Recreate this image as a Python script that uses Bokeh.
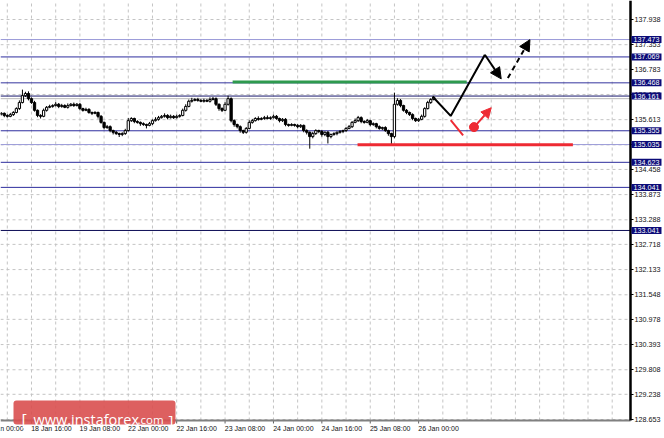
from bokeh.plotting import figure
from bokeh.models import Range1d, FixedTicker, Label, BoxAnnotation, Arrow, NormalHead
from bokeh.embed import file_html
from bokeh.resources import INLINE

# ---------------- data (H1 candles, bar index 0..143) ----------------
first_open = 135.74
closes = [
    135.76, 135.71, 135.69, 135.73, 135.78, 135.87, 136.01, 136.17, 136.22, 136.10,
    136.01, 135.83, 135.71, 135.69, 135.83, 135.90, 135.92, 135.94, 135.97, 135.92,
    135.94, 135.90, 135.94, 135.97, 135.94, 135.97, 135.87, 135.83, 135.85, 135.78,
    135.76, 135.78, 135.69, 135.55, 135.43, 135.45, 135.36, 135.32, 135.29, 135.27,
    135.29, 135.36, 135.59, 135.64, 135.57, 135.55, 135.52, 135.50, 135.48, 135.52,
    135.59, 135.62, 135.66, 135.69, 135.71, 135.66, 135.69, 135.66, 135.69, 135.71,
    135.83, 135.92, 136.04, 136.06, 136.08, 136.06, 136.04, 136.06, 136.04, 136.08,
    136.10, 135.97, 135.87, 135.83, 135.97, 136.10, 135.59, 135.50, 135.45, 135.36,
    135.32, 135.41, 135.55, 135.59, 135.64, 135.62, 135.64, 135.66, 135.64, 135.66,
    135.69, 135.64, 135.59, 135.62, 135.50, 135.48, 135.50, 135.48, 135.45, 135.48,
    135.36, 135.32, 135.22, 135.29, 135.36, 135.34, 135.27, 135.32, 135.22, 135.27,
    135.29, 135.32, 135.34, 135.36, 135.41, 135.45, 135.55, 135.59, 135.66, 135.57,
    135.55, 135.59, 135.50, 135.52, 135.45, 135.41, 135.43, 135.36, 135.29, 135.22,
    135.97, 136.06, 135.94, 135.83, 135.78, 135.73, 135.64, 135.59, 135.62, 135.69,
    135.87, 136.01, 136.08, 136.13,
]
upper_wicks = [
    0.03, 0.02, 0.03, 0.04, 0.03, 0.03, 0.05, 0.14, 0.04, 0.05,
    0.03, 0.04, 0.02, 0.03, 0.04, 0.03, 0.04, 0.03, 0.05, 0.03,
    0.04, 0.03, 0.05, 0.03, 0.04, 0.03, 0.03, 0.02, 0.04, 0.03,
    0.02, 0.03, 0.02, 0.03, 0.02, 0.04, 0.03, 0.02, 0.03, 0.02,
    0.03, 0.04, 0.06, 0.03, 0.02, 0.03, 0.02, 0.03, 0.02, 0.04,
    0.03, 0.05, 0.04, 0.03, 0.05, 0.03, 0.04, 0.03, 0.04, 0.03,
    0.04, 0.05, 0.04, 0.06, 0.03, 0.04, 0.03, 0.04, 0.03, 0.05,
    0.04, 0.03, 0.02, 0.03, 0.05, 0.07, 0.03, 0.03, 0.02, 0.03,
    0.02, 0.03, 0.05, 0.04, 0.03, 0.05, 0.03, 0.04, 0.05, 0.03,
    0.04, 0.03, 0.02, 0.03, 0.03, 0.02, 0.03, 0.02, 0.03, 0.03,
    0.02, 0.03, 0.02, 0.04, 0.03, 0.02, 0.03, 0.02, 0.03, 0.02,
    0.03, 0.02, 0.03, 0.02, 0.03, 0.04, 0.03, 0.05, 0.04, 0.03,
    0.03, 0.04, 0.02, 0.03, 0.02, 0.03, 0.02, 0.03, 0.02, 0.02,
    0.27, 0.05, 0.03, 0.02, 0.03, 0.02, 0.03, 0.02, 0.03, 0.04,
    0.03, 0.04, 0.03, 0.02,
]
lower_wicks = [
    0.03, 0.04, 0.03, 0.02, 0.03, 0.02, 0.03, 0.02, 0.03, 0.04,
    0.03, 0.03, 0.04, 0.05, 0.02, 0.03, 0.02, 0.03, 0.02, 0.04,
    0.03, 0.02, 0.03, 0.02, 0.03, 0.02, 0.04, 0.03, 0.02, 0.03,
    0.04, 0.02, 0.05, 0.03, 0.04, 0.03, 0.04, 0.05, 0.03, 0.06,
    0.04, 0.03, 0.02, 0.03, 0.04, 0.03, 0.05, 0.03, 0.07, 0.02,
    0.03, 0.02, 0.03, 0.02, 0.03, 0.04, 0.02, 0.03, 0.02, 0.03,
    0.02, 0.03, 0.02, 0.03, 0.02, 0.03, 0.02, 0.03, 0.02, 0.03,
    0.02, 0.04, 0.05, 0.04, 0.02, 0.03, 0.04, 0.05, 0.04, 0.05,
    0.04, 0.03, 0.02, 0.03, 0.02, 0.03, 0.02, 0.03, 0.02, 0.03,
    0.02, 0.03, 0.04, 0.03, 0.04, 0.03, 0.02, 0.03, 0.04, 0.03,
    0.04, 0.05, 0.28, 0.04, 0.03, 0.04, 0.05, 0.04, 0.16, 0.04,
    0.03, 0.04, 0.03, 0.04, 0.03, 0.02, 0.03, 0.02, 0.03, 0.04,
    0.03, 0.02, 0.04, 0.03, 0.04, 0.03, 0.04, 0.03, 0.05, 0.18,
    0.04, 0.03, 0.04, 0.03, 0.04, 0.03, 0.04, 0.03, 0.03, 0.02,
    0.03, 0.02, 0.03, 0.02,
]

# right-axis price ticks and date ticks (bar index)
price_ticks = [137.938, 137.353, 136.783, 136.198, 135.613, 135.028, 134.458, 133.873,
               133.288, 132.718, 132.133, 131.548, 130.978, 130.393, 129.808, 129.238, 128.653]
date_tick_bars = [-6, 10, 26, 42, 58, 74, 90, 106, 122, 138]
date_tick_labels = ["18 Jan 00:00", "18 Jan 16:00", "19 Jan 08:00", "22 Jan 00:00", "22 Jan 16:00",
                    "23 Jan 08:00", "24 Jan 00:00", "24 Jan 16:00", "25 Jan 08:00", "26 Jan 00:00"]

# horizontal levels
levels = [137.473, 137.069, 136.468, 136.161, 135.355, 135.035, 134.623, 134.041, 133.041]
level_colors = ["#9a9ad8", "#2e2e9e", "#35359f", "#15156a", "#2e2e9e", "#9a9ad8", "#2e2e9e", "#2e2e9e", "#0c0c55"]
bid_price = 136.10

# drawn objects (bar index, price)
resistance_bars = [76.5, 153.9]
resistance_price = 136.49
support_bars = [117.8, 189.0]
support_price = 135.03
path_bars = [142.6, 148.6, 159.9]
path_prices = [136.15, 135.70, 137.12]
arrow_down = [(159.9, 137.12), (165.3, 136.56)]
arrow_up_dashed = [(167.5, 136.58), (174.8, 137.47)]
red_seg_bars = [148.6, 152.7]
red_seg_prices = [135.60, 135.25]
red_dot = (156.3, 135.44)
red_arrow = [(157.0, 135.49), (162.0, 135.89)]

# ---------------- derived ----------------
opens = [first_open] + closes[:-1]
highs = [max(o, c) + u for o, c, u in zip(opens, closes, upper_wicks)]
lows = [min(o, c) - l for o, c, l in zip(opens, closes, lower_wicks)]
bars = list(range(len(closes)))
up = [c >= o for o, c in zip(opens, closes)]

# chart area (the price pane) spans 630 x 420 px of the 664 x 438 canvas
X0, X1 = -0.25, 208.05
Y0, Y1 = 128.63, 138.379
PANE_W, PANE_H, W, H = 630, 420, 664, 438
DX = (X1 - X0) / PANE_W
DY = (Y1 - Y0) / PANE_H
XR = X0 + W * DX          # canvas right edge in bars
YB = Y1 - H * DY          # canvas bottom edge in price


def px_x(px):
    return X0 + px * DX


def px_y(py):
    return Y1 - py * DY


p = figure(width=W, height=H, output_backend="svg", toolbar_location=None, title=None,
           x_range=Range1d(X0, XR), y_range=Range1d(YB, Y1), y_axis_location="right",
           min_border_left=0, min_border_top=0, min_border_right=0, min_border_bottom=0)
p.margin = (0, -8, -8, 0)
p.outline_line_color = None
p.background_fill_color = "white"
p.border_fill_color = "white"
p.xgrid.visible = False
p.ygrid.visible = False

# dashed grid inside the price pane
grid_bars = list(range(2, 210, 8))
p.segment(x0=grid_bars, y0=[Y0] * len(grid_bars), x1=grid_bars, y1=[Y1] * len(grid_bars),
          line_color="#c4c4c4", line_dash="3 3", line_width=1)
p.segment(x0=[X0] * len(price_ticks), y0=price_ticks, x1=[X1] * len(price_ticks), y1=price_ticks,
          line_color="#c4c4c4", line_dash="3 3", line_width=1)

# axes pinned to the pane edges
ya = p.yaxis[0]
ya.fixed_location = X1
ya.bounds = (Y0, Y1)
ya.ticker = FixedTicker(ticks=price_ticks)
ya.major_label_overrides = {t: f"{t:.3f}" for t in price_ticks}
ya.major_label_text_font = "Liberation Sans"
ya.major_label_text_font_size = "7.2px"
ya.major_label_text_color = "#111111"
ya.major_label_standoff = 1
ya.major_tick_out = 3
ya.major_tick_in = 0
ya.minor_tick_out = 0
ya.minor_tick_in = 0
ya.axis_line_color = "black"
ya.axis_line_width = 2.5
ya.major_tick_line_color = "black"

label_shift = 6.6  # date labels start at their tick: centre them half a label to the right
xa = p.xaxis[0]
xa.fixed_location = Y0
xa.bounds = (X0, X1)
xa.ticker = FixedTicker(ticks=[b + label_shift for b in date_tick_bars[1:]])
xa.major_label_overrides = {b + label_shift: t for b, t in zip(date_tick_bars[1:], date_tick_labels[1:])}
xa.major_label_text_font = "Liberation Sans"
xa.major_label_text_font_size = "7px"
xa.major_label_text_color = "#111111"
xa.major_label_standoff = 4
xa.major_tick_out = 0
xa.major_tick_in = 0
xa.minor_tick_out = 0
xa.minor_tick_in = 0
xa.axis_line_color = "#808080"
xa.axis_line_width = 2
# the first date label starts left of the pane and is cut by the edge
p.add_layout(Label(x=date_tick_bars[0], y=Y0, y_offset=-4, text=date_tick_labels[0],
                   text_align="left", text_baseline="top", text_color="#111111",
                   text_font_size="7px", text_font="Liberation Sans"))
# small tick marks at the true date ticks
p.segment(x0=date_tick_bars, y0=[Y0] * len(date_tick_bars), x1=date_tick_bars,
          y1=[px_y(PANE_H + 3)] * len(date_tick_bars), line_color="#606060", line_width=1)

# level lines and bid line (under the candles)
p.segment(x0=[X0] * len(levels), y0=levels, x1=[X1] * len(levels), y1=levels,
          line_color=level_colors, line_width=1)
p.segment(x0=[X0], y0=[bid_price], x1=[X1], y1=[bid_price], line_color="#b8b8b8", line_width=1)

# candles
bull_x = [b for b, u in zip(bars, up) if u]
bear_x = [b for b, u in zip(bars, up) if not u]
p.segment(x0=bars, y0=highs, x1=bars, y1=lows, line_color="black", line_width=1)
p.vbar(x=bull_x, width=0.75,
       top=[c for c, u in zip(closes, up) if u], bottom=[o for o, u in zip(opens, up) if u],
       fill_color="white", line_color="black", line_width=1)
p.vbar(x=bear_x, width=0.75,
       top=[o for o, u in zip(opens, up) if not u], bottom=[c for c, u in zip(closes, up) if not u],
       fill_color="black", line_color="black", line_width=1)

# support / resistance segments
p.line(resistance_bars, [resistance_price] * 2, line_color="#2e9a4e", line_width=3)
p.line(support_bars, [support_price] * 2, line_color="#ee2a33", line_width=3)

# forecast drawings
p.line(path_bars, path_prices, line_color="black", line_width=2)
p.add_layout(Arrow(end=NormalHead(size=11, fill_color="black", line_color="black"),
                   x_start=arrow_down[0][0], y_start=arrow_down[0][1],
                   x_end=arrow_down[1][0], y_end=arrow_down[1][1],
                   line_color="black", line_width=2))
p.add_layout(Arrow(end=NormalHead(size=11, fill_color="black", line_color="black"),
                   x_start=arrow_up_dashed[0][0], y_start=arrow_up_dashed[0][1],
                   x_end=arrow_up_dashed[1][0], y_end=arrow_up_dashed[1][1],
                   line_color="black", line_width=2, line_dash="5 4"))
p.line(red_seg_bars, red_seg_prices, line_color="#ee2a33", line_width=2)
p.scatter([red_dot[0]], [red_dot[1]], size=9, color="#ee2a33")
p.add_layout(Arrow(end=NormalHead(size=10, fill_color="#ee2a33", line_color="#ee2a33"),
                   x_start=red_arrow[0][0], y_start=red_arrow[0][1],
                   x_end=red_arrow[1][0], y_end=red_arrow[1][1],
                   line_color="#ee2a33", line_width=2))

# level price boxes on the right axis
for lv in levels:
    p.add_layout(Label(x=X1, y=lv, x_offset=1, text=f"{lv:.3f}", text_align="left",
                       text_baseline="middle", text_color="white", text_font_size="7.2px",
                       text_font="Liberation Sans",
                       background_fill_color="#0b0b78", background_fill_alpha=1.0,
                       padding=(2, 1)))

# watermark
p.add_layout(BoxAnnotation(left=px_x(13), right=px_x(175), top=px_y(400), bottom=px_y(424),
                           fill_color="#d94f4f", fill_alpha=0.9, line_color=None,
                           border_radius=3))
wm_y = px_y(419)
for px, txt, size in [(21, "[", "16px"), (33, "www.instaforex", "14.5px"),
                      (137, ".com", "11.5px"), (168, "]", "15px")]:
    p.add_layout(Label(x=px_x(px), y=wm_y, text=txt, text_align="left",
                       text_baseline="alphabetic", text_color="white",
                       text_font_size=size, text_font="Open Sans"))

open("out.html", "w").write(file_html(p, INLINE))
